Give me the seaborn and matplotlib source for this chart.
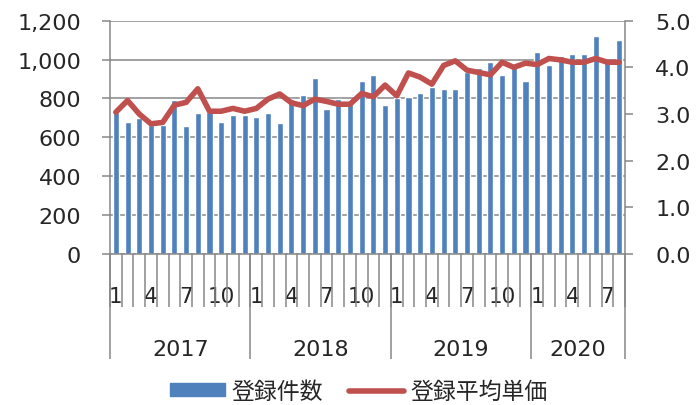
import numpy as np
import pandas as pd
import seaborn as sns
import matplotlib.pyplot as plt
from matplotlib.patches import Patch
from matplotlib.lines import Line2D
from matplotlib.ticker import FuncFormatter

# monthly data, Jan 2017 - Aug 2020
years = [2017] * 12 + [2018] * 12 + [2019] * 12 + [2020] * 8
months = list(range(1, 13)) * 3 + list(range(1, 9))
counts = [728, 680, 700, 665, 665, 790, 660, 723, 730, 680, 715, 715,
          703, 723, 672, 797, 818, 903, 746, 797, 775, 891, 922, 766,
          800, 805, 826, 860, 848, 848, 935, 955, 985, 922, 965, 891,
          1037, 973, 1016, 1027, 1027, 1119, 990, 1100]
prices = [3.04, 3.29, 3.00, 2.79, 2.82, 3.19, 3.25, 3.54, 3.06, 3.06, 3.12, 3.06,
          3.12, 3.32, 3.43, 3.24, 3.18, 3.32, 3.27, 3.21, 3.21, 3.44, 3.37, 3.62,
          3.39, 3.88, 3.79, 3.64, 4.04, 4.14, 3.94, 3.89, 3.84, 4.11, 4.00, 4.09,
          4.06, 4.19, 4.16, 4.11, 4.11, 4.19, 4.11, 4.11]
month_ticks = [1, 4, 7, 10]
bar_label = "登録件数"
line_label = "登録平均単価"

df = pd.DataFrame({"year": years, "month": months, "count": counts, "price": prices})
df["label"] = df["year"].astype(str) + "-" + df["month"].astype(str)
df["pos"] = np.arange(len(df))

blue = "#4F81BD"
red = "#C0504D"
gray = "#878787"

sns.set_theme(style="white")
plt.rcParams["font.family"] = ["DejaVu Sans", "Noto Sans CJK JP"]

fig = plt.figure(figsize=(6.98, 4.06), dpi=100)
ax = fig.add_axes([110 / 698, 1 - 255 / 406, 515 / 698, 233.3 / 406])

sns.barplot(data=df, x="label", y="count", color=blue, saturation=1,
            width=0.52, ax=ax, order=df["label"])
ax.set_ylim(0, 1200)
ax.set_xlim(-0.5, len(df) - 0.5)
ax.set_yticks(range(0, 1201, 200))
ax.yaxis.set_major_formatter(FuncFormatter(lambda v, p: f"{int(v):,}"))
ax.grid(axis="y", color=gray, linewidth=1.1)
ax.set_axisbelow(True)
ax.set_xlabel("")
ax.set_ylabel("")
for s in ["top", "right"]:
    ax.spines[s].set_visible(False)
for s in ["left", "bottom"]:
    ax.spines[s].set_color(gray)
    ax.spines[s].set_linewidth(1.1)
ax.tick_params(axis="y", length=5.8, width=1.1, color=gray, pad=15,
               labelsize=16, left=True)

# month labels + category separators
tick_pos = df.loc[df["month"].isin(month_ticks), "pos"]
ax.set_xticks(tick_pos, labels=df.loc[tick_pos, "month"].astype(str))
ax.tick_params(axis="x", which="major", length=0, pad=23, labelsize=15.5)
ax.set_xticks(np.arange(-0.5, len(df)), minor=True)
ax.tick_params(axis="x", which="minor", length=38, width=1.1, color=gray,
               bottom=True)

# year labels + year separators
sec = ax.secondary_xaxis("bottom")
year_groups = df.groupby("year")["pos"]
year_centers = (year_groups.min() + year_groups.max()) / 2
bounds = list(year_groups.min() - 0.5) + [len(df) - 0.5]
sec.set_xticks(year_centers.values, labels=year_centers.index.astype(str))
sec.set_xticks(bounds, minor=True)
sec.tick_params(axis="x", which="major", length=0, pad=61, labelsize=16)
sec.tick_params(axis="x", which="minor", length=75.6, width=1.1, color=gray,
                bottom=True)
sec.spines["bottom"].set_visible(False)

# price line on the right axis
ax2 = ax.twinx()
sns.lineplot(data=df, x="pos", y="price", color=red, linewidth=4, ax=ax2)
ax2.set_ylim(0, 5)
ax2.set_xlim(-0.5, len(df) - 0.5)
ax2.set_yticks(np.arange(0, 5.01, 1.0))
ax2.yaxis.set_major_formatter(FuncFormatter(lambda v, p: f"{v:.1f}"))
ax2.set_ylabel("")
ax2.set_xlabel("")
for s in ["top", "left", "bottom"]:
    ax2.spines[s].set_visible(False)
ax2.spines["right"].set_color(gray)
ax2.spines["right"].set_linewidth(1.1)
ax2.tick_params(axis="y", length=5.8, width=1.1, color=gray, pad=16,
                labelsize=16, right=True)
ax2.grid(False)

handles = [Patch(color=blue, label=bar_label),
           Line2D([0], [0], color=red, linewidth=4, solid_capstyle="round",
                  label=line_label)]
fig.legend(handles=handles, loc="center", bbox_to_anchor=(0.514, 0.034),
           ncol=2, frameon=False, fontsize=16.5, handlelength=2.4,
           handleheight=0.45, handletextpad=0.3, columnspacing=1.1,
           borderpad=0.2)

fig.savefig("out.png", dpi=100, facecolor="white")
